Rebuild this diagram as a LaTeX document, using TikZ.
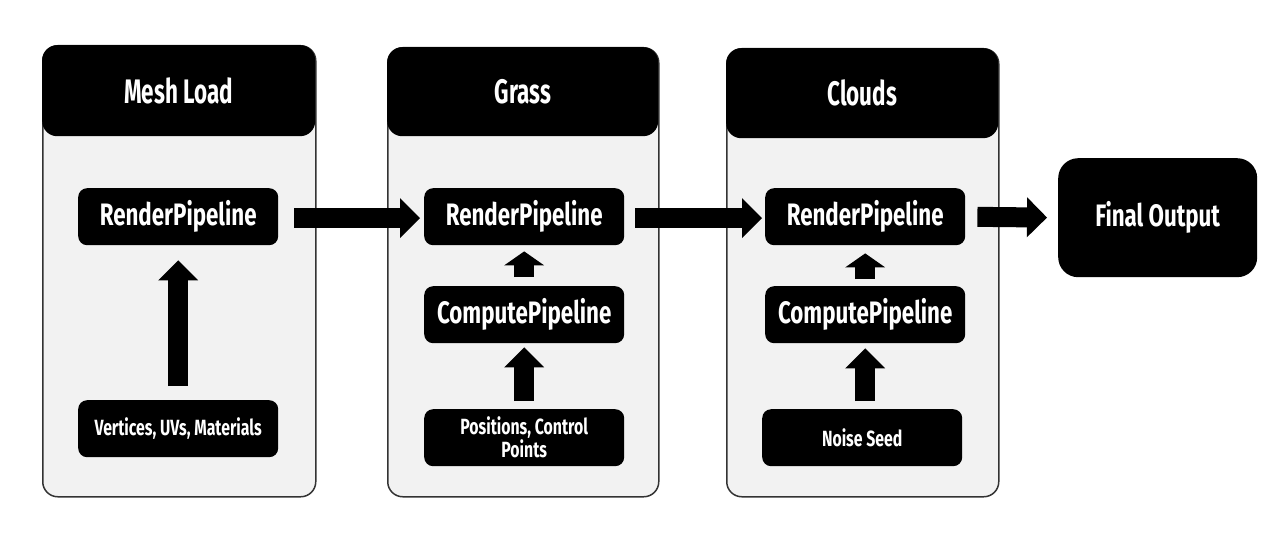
\documentclass[tikz,border=0pt]{standalone}
\usepackage{fontspec}
\setmainfont{Fira Sans}[FakeStretch=0.72]
\newfontfamily\hdrfont{Fira Sans}[FakeStretch=0.66]
\usetikzlibrary{arrows.meta}
\begin{document}
\begin{tikzpicture}[x=1pt,y=-1pt,
  group/.style={draw=black!80, line width=1.5pt, fill=black!5, rounded corners=15pt, anchor=north west, inner sep=0pt},
  header/.style={fill=black, rounded corners=15pt, anchor=north west, text=white, font=\hdrfont\bfseries\fontsize{34}{36}\selectfont, inner sep=0pt},
  stage/.style={fill=black, rounded corners=9pt, anchor=north west, minimum width=200pt, minimum height=57pt, text=white, font=\bfseries\fontsize{31}{34}\selectfont, inner sep=0pt},
  source/.style={stage, font=\bfseries\fontsize{22}{23}\selectfont, align=center},
  fat/.style={line width=20pt, -{Triangle[length=#1, width=40pt, line width=0pt]}},
  fat/.default=20pt
]
\fill[white] (0,0) rectangle (1281,543);
\useasboundingbox (0,0) rectangle (1281,543);

% group 1
\node[group, minimum width=273pt, minimum height=451pt] (g1) at (42,45) {};
\node[header, minimum width=273pt, minimum height=91pt] (h1) at (42,45) {Mesh Load};
\node[stage] (r1) at (78,188) {RenderPipeline};
\node[source] (v1) at (78,400) {Vertices, UVs, Materials};

% group 2
\node[group, minimum width=271pt, minimum height=449pt] (g2) at (387,47) {};
\node[header, minimum width=271pt, minimum height=89pt] (h2) at (387,47) {Grass};
\node[stage] (r2) at (424,188) {RenderPipeline};
\node[stage] (c2) at (424,286) {ComputePipeline};
\node[source] (p2) at (424,409) {Positions, Control\\Points};

% group 3
\node[group, minimum width=272pt, minimum height=448pt] (g3) at (726,48) {};
\node[header, minimum width=272pt, minimum height=90pt] (h3) at (726,48) {Clouds};
\node[stage] (r3) at (765,188) {RenderPipeline};
\node[stage] (c3) at (765,286) {ComputePipeline};
\node[source] (n3) at (762,409) {Noise Seed};

% final
\node[stage, minimum width=199pt, minimum height=119pt, rounded corners=20pt] (fo) at (1058,158) {Final Output};

% arrows
\draw[fat, shorten <=14pt, shorten >=15pt] (v1) -- (r1);
\draw[fat=14pt, shorten <=9pt, shorten >=6pt] (c2) -- (r2);
\draw[fat, shorten <=8pt, shorten >=4pt] (p2) -- (c2);
\draw[fat=14pt, shorten <=7pt, shorten >=8pt] (c3) -- (r3);
\draw[fat, shorten <=8pt, shorten >=5pt] (n3.north -| c3.south) -- (c3.south);
\draw[fat, shorten <=16pt, shorten >=4pt] ([yshift=-1.5pt]r1.east) -- ([yshift=-1.5pt]r2.west);
\draw[fat, shorten <=11pt, shorten >=3pt] ([yshift=-1.5pt]r2.east) -- ([yshift=-1.5pt]r3.west);
\draw[fat, shorten <=12pt, shorten >=11pt] (r3.east) -- (fo.west);
\end{tikzpicture}
\end{document}
